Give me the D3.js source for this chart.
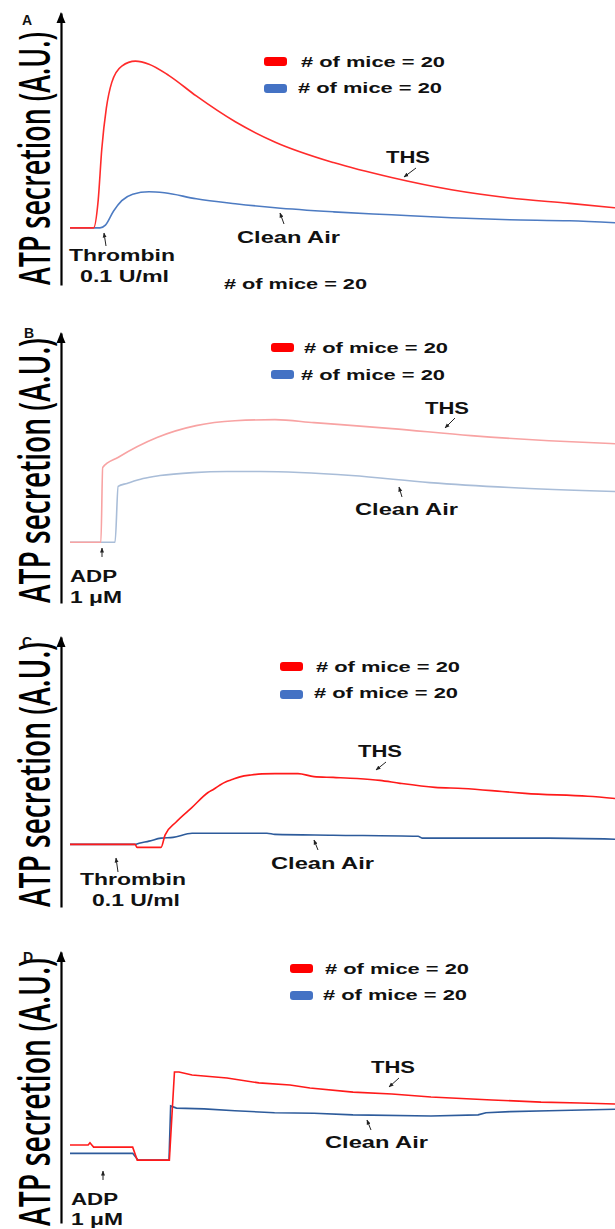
<!DOCTYPE html>
<html>
<head>
<meta charset="utf-8">
<script src="https://cdn.jsdelivr.net/npm/d3@7"></script>
<style>
  body { margin: 0; background: #fff; }
  svg { display: block; }
  text { font-family: "Liberation Sans", Arial, sans-serif; fill: #111; }
</style>
</head>
<body>
<div id="chart"></div>
<script>
// time (s, 0-300) vs ATP secretion (arbitrary units, 0-100)
var panelNames = ["A", "B", "C", "D"];
var agonists = [["Thrombin", "0.1 U/ml"], ["ADP", "1 μM"], ["Thrombin", "0.1 U/ml"], ["ADP", "1 μM"]];
var seriesNames = ["THS", "Clean Air"];
var miceCounts = [20, 20];

var thsA = [[0,21],[13,21],[15.5,31],[17.5,50],[20,65],[23,74.5],[28.5,80.5],[36,82.3],[43.5,81.2],[54.5,77],
  [69.5,69.5],[91,60],[113,52.5],[145,45],[177,39.5],[210,35],[242,32],[275,30],[300,28.4]];
var airA = [[0,21],[16.5,21],[19.5,22],[24,27.2],[28.5,31],[34.5,33.4],[43.5,34.3],[52,33.9],[69.5,31.7],
  [91,29.9],[113,28.4],[145,26.9],[177,25.8],[210,24.7],[242,24],[275,23.6],[300,22.9]];

var thsB = [[0,22.5],[17,22.5],[18,50.2],[26.4,53.9],[47.9,61.3],[69.4,65.7],[90.8,67.5],[112.8,67.9],
  [134.3,66.8],[177.2,64.6],[220.7,62],[263.7,60.1],[300,59]];
var airB = [[0,22.5],[24.8,22.5],[26.5,43.2],[31.4,44.3],[40.2,46.1],[49.5,47.2],[67.7,48.3],[86.4,48.7],
  [104.6,48.7],[155,47.2],[198,44.6],[242,42.8],[300,41.3]];

var thsC = [[0,23.2],[35.8,23.2],[36.9,22.1],[50.1,22.1],[52.3,26.6],[58.3,31.4],[67.2,36.9],[76,42.4],[79.3,43.7],
  [82.6,45.2],[85.9,46.4],[89.2,47.2],[93.6,48.2],[99.6,48.9],[105.7,49.3],[112.8,49.4],[125.5,49.4],[134.3,48.3],
  [144.8,48],[158,47.6],[170.6,46.9],[181.7,45.8],[200.9,44.3],[216.3,43.9],[237.8,42.8],[250.5,42.1],
  [285.1,41],[300,40.2]];
var airC = [[0,23.2],[35.8,23.2],[38,23.6],[43.5,24.4],[50.1,25.5],[56.7,25.8],[67.2,27.3],[80.4,27.3],[108.4,27.3],
  [112.8,26.9],[144.8,26.6],[191.6,26.2],[193.8,25.5],[263.7,25.5],[300,25.1]];

var thsD = [[0,28.8],[10,28.8],[11,29.6],[12,28.8],[13,28],[34.5,28],[37,23.2],[54.7,23.2],[57.5,55.7],[60,55.7],
  [67.2,54.6],[86.4,53.5],[104,51.7],[121.1,50.9],[132.1,49.8],[155.8,48.3],[177.2,47.6],[198.7,46.5],
  [232.3,45.4],[259.3,44.6],[280.7,44.3],[300,43.9]];
var airD = [[0,25.7],[34.5,25.7],[37.5,23.2],[54.5,23.2],[55.4,43.2],[58.6,42.4],[73.8,42.1],[90.8,41.4],
  [112.6,40.7],[134.3,40.5],[155.8,39.9],[198.7,39.5],[224.6,39.9],[229,40.7],[242.2,41.1],[263.7,41.4],[300,42]];

var thsSeries = [thsA, thsB, thsC, thsD];
var airSeries = [airA, airB, airC, airD];

// colours per panel (B traces are faded in the original)
var thsColors = ["#ff2b2b", "#f8a3a3", "#ff1a1a", "#ff1a1a"];
var airColors = ["#4d7bc2", "#a9bdd8", "#2d5b9b", "#2d5b9b"];
var smooth = [true, true, true, false];

// page layout, pixels
var layout = [
  { top: 13, bottom: 285, letter: [22, 25], ylab: 253, ylabY: 285,
    swX: 264, rows: [57, 84], legX: [301, 298], legY: [67, 93],
    ths: [386, 163], thsArrow: [416, 168, 404, 177],
    air: [237, 243], airArrow: [284, 224, 280, 213],
    ag1: [69, 261, 106], ag2: [80, 282, 89], agArrow: [106, 246, 104, 233],
    extra: [224, 289] },
  { top: 333, bottom: 603, letter: [24, 338], ylab: 265, ylabY: 603,
    swX: 271, rows: [343, 370], legX: [304, 301], legY: [353, 380],
    ths: [425, 414], thsArrow: [455, 418, 445, 428],
    air: [355, 515], airArrow: [402, 497, 399, 487],
    ag1: [70, 582, 47], ag2: [70, 603, 52], agArrow: [102, 557, 102, 548] },
  { top: 637, bottom: 907, letter: [22, 647], ylab: 265, ylabY: 907,
    swX: 280, rows: [662, 690], legX: [316, 314], legY: [672, 698],
    ths: [358, 757], thsArrow: [386, 762, 376, 770],
    air: [271, 869], airArrow: [318, 850, 314, 840],
    ag1: [80, 885, 106], ag2: [92, 906, 88], agArrow: [118, 872, 116, 858] },
  { top: 952, bottom: 1223, letter: [23, 962], ylab: 268, ylabY: 1226,
    swX: 290, rows: [964, 991], legX: [325, 323], legY: [974, 1000],
    ths: [371, 1073], thsArrow: [399, 1078, 389, 1087],
    air: [325, 1148], airArrow: [371, 1130, 367, 1120],
    ag1: [71, 1205, 47], ag2: [71, 1225, 52], agArrow: [103, 1180, 103, 1171] }
];

var width = 615, height = 1229;
var svg = d3.select("#chart").append("svg")
  .attr("width", width).attr("height", height);

svg.append("defs").append("marker")
  .attr("id", "tip")
  .attr("viewBox", "0 0 10 10")
  .attr("refX", 9).attr("refY", 5)
  .attr("markerWidth", 5).attr("markerHeight", 5)
  .attr("orient", "auto")
  .append("path").attr("d", "M0,1L10,5L0,9z").attr("fill", "#222");

var x = d3.scaleLinear().domain([0, 300]).range([70, 615]);

function label(g, str, pos, size, len) {
  var t = g.append("text")
    .attr("x", pos[0]).attr("y", pos[1])
    .attr("font-size", size).attr("font-weight", "bold")
    .text(str);
  if (len) t.attr("textLength", len).attr("lengthAdjust", "spacingAndGlyphs");
  return t;
}

function arrow(g, a) {
  g.append("line")
    .attr("x1", a[0]).attr("y1", a[1]).attr("x2", a[2]).attr("y2", a[3])
    .attr("stroke", "#222").attr("stroke-width", 1)
    .attr("marker-end", "url(#tip)");
}

panelNames.forEach(function(name, i) {
  var L = layout[i];
  var g = svg.append("g").attr("class", "panel");
  var y = d3.scaleLinear().domain([0, 100]).range([L.bottom, L.top]);

  // y axis: bare line with arrow on top
  var ax = g.append("g")
    .attr("transform", "translate(61,0)")
    .call(d3.axisLeft(y).tickValues([]).tickSizeOuter(0));
  ax.select(".domain").attr("stroke", "#000").attr("stroke-width", 2.2);
  g.append("path")
    .attr("d", "M61," + (L.top - 1) + "L56.5," + (L.top + 10) + "L65.5," + (L.top + 10) + "Z")
    .attr("fill", "#000");

  g.append("text")
    .attr("transform", "translate(50," + L.ylabY + ") rotate(-90)")
    .attr("font-size", 44)
    .attr("font-weight", 600)
    .attr("textLength", L.ylab).attr("lengthAdjust", "spacingAndGlyphs")
    .style("font-family", "'Open Sans', Lato, sans-serif")
    .style("fill", "#000")
    .text("ATP secretion (A.U.)");

  label(g, name, L.letter, 14);

  // traces
  var line = d3.line()
    .x(function(d) { return x(d[0]); })
    .y(function(d) { return y(d[1]); })
    .curve(smooth[i] ? d3.curveMonotoneX : d3.curveLinear);

  g.append("path").datum(airSeries[i])
    .attr("fill", "none").attr("stroke", airColors[i]).attr("stroke-width", 1.6)
    .attr("d", line);
  g.append("path").datum(thsSeries[i])
    .attr("fill", "none").attr("stroke", thsColors[i]).attr("stroke-width", 1.6)
    .attr("d", line);

  // legend
  var swatch = ["#ff0000", "#4472c4"];
  miceCounts.forEach(function(n, k) {
    g.append("rect")
      .attr("x", L.swX).attr("y", L.rows[k])
      .attr("width", 23).attr("height", 9).attr("rx", 3)
      .attr("fill", swatch[k]);
    label(g, "# of mice = " + n, [L.legX[k], L.legY[k]], 15, 144);
  });

  label(g, seriesNames[0], L.ths, 16, 44);
  arrow(g, L.thsArrow);
  label(g, seriesNames[1], L.air, 16, 103);
  arrow(g, L.airArrow);

  label(g, agonists[i][0], L.ag1, 16, L.ag1[2]);
  label(g, agonists[i][1], L.ag2, 16, L.ag2[2]);
  arrow(g, L.agArrow);

  if (L.extra) label(g, "# of mice = " + miceCounts[0], L.extra, 15, 143);
});
</script>
</body>
</html>
